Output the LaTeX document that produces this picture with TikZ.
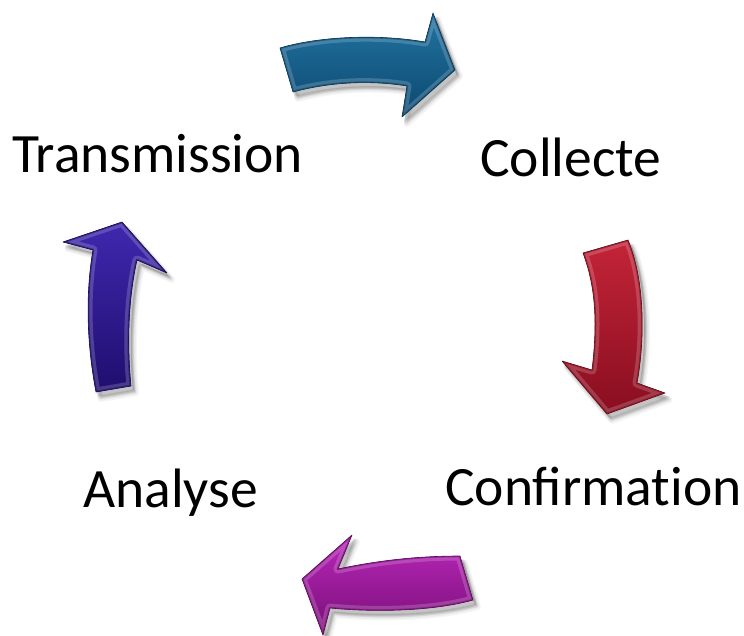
\documentclass[tikz,border=0pt]{standalone}
\usepackage{fontspec}
\setmainfont{Carlito}
\begin{document}
\begin{tikzpicture}[x=1pt,y=-1pt,
  steplabel/.style={font=\fontsize{55.5}{60}\selectfont, anchor=base west, inner sep=0pt, text=black}]
\useasboundingbox (0,0) rectangle (744,636);

% glossy block arrow: #1 path, #2 light, #3 dark, #4 shading angle
\newcommand\glossyarrow[4]{%
  \foreach \k in {1,...,5}{%
    \path[fill=black, draw=black, fill opacity=0.05, draw opacity=0.04,
          line width=\k*1.2, line join=round, shift={(2+\k*0.6,3+\k*0.8)}] #1;}
  \shade[shading angle=#4, top color=#2, bottom color=#3] #1;
  \begin{scope}
    \clip #1;
    \draw[white, opacity=0.18, line width=9, line join=round] #1;
    \draw[#3, opacity=0.6, line width=2.5, line join=round] #1;
  \end{scope}
  \draw[#3!70!black, line width=0.6, line join=round] #1;
}

\definecolor{tealL}{RGB}{34,116,162}
\definecolor{tealD}{RGB}{12,72,112}
\definecolor{redL}{RGB}{196,36,56}
\definecolor{redD}{RGB}{136,14,32}
\definecolor{magL}{RGB}{186,40,186}
\definecolor{magD}{RGB}{120,14,120}
\definecolor{indL}{RGB}{64,40,175}
\definecolor{indD}{RGB}{32,14,110}

% top arrow (Transmission -> Collecte)
\glossyarrow{(280,48) .. controls (320,36) and (380,34) .. (425,42) -- (433,13) -- (455,70) -- (402,117) -- (407,86) .. controls (370,80) and (330,82) .. (293,92) -- cycle}{tealL}{tealD}{0}

% right arrow (Collecte -> Confirmation)
\glossyarrow{(583,253) -- (628,240) .. controls (645,280) and (645,340) .. (637,383) -- (665,393) -- (607,414) -- (562,361) -- (592,370) .. controls (598,320) and (595,285) .. (583,253) -- cycle}{redL}{redD}{90}

% bottom arrow (Confirmation -> Analyse)
\glossyarrow{(460,556) -- (473,600) .. controls (430,612) and (370,612) .. (330,608) -- (323,635) -- (302,579) -- (352,535) -- (338,569) .. controls (380,560) and (420,556) .. (460,556) -- cycle}{magL}{magD}{0}

% left arrow (Analyse -> Transmission)
\glossyarrow{(96,392) .. controls (86,340) and (86,290) .. (93,250) -- (63,242) -- (122,222) -- (167,273) -- (137,260) .. controls (128,300) and (127,345) .. (131,386) -- cycle}{indL}{indD}{90}

\node[steplabel] (transmission) at (12,173) {Transmission};
\node[steplabel] (collecte) at (480,177) {Collecte};
\node[steplabel] (confirmation) at (445,505) {Confirmat\kern0pt ion};
\node[steplabel] (analyse) at (83,507) {Analyse};
\end{tikzpicture}
\end{document}
